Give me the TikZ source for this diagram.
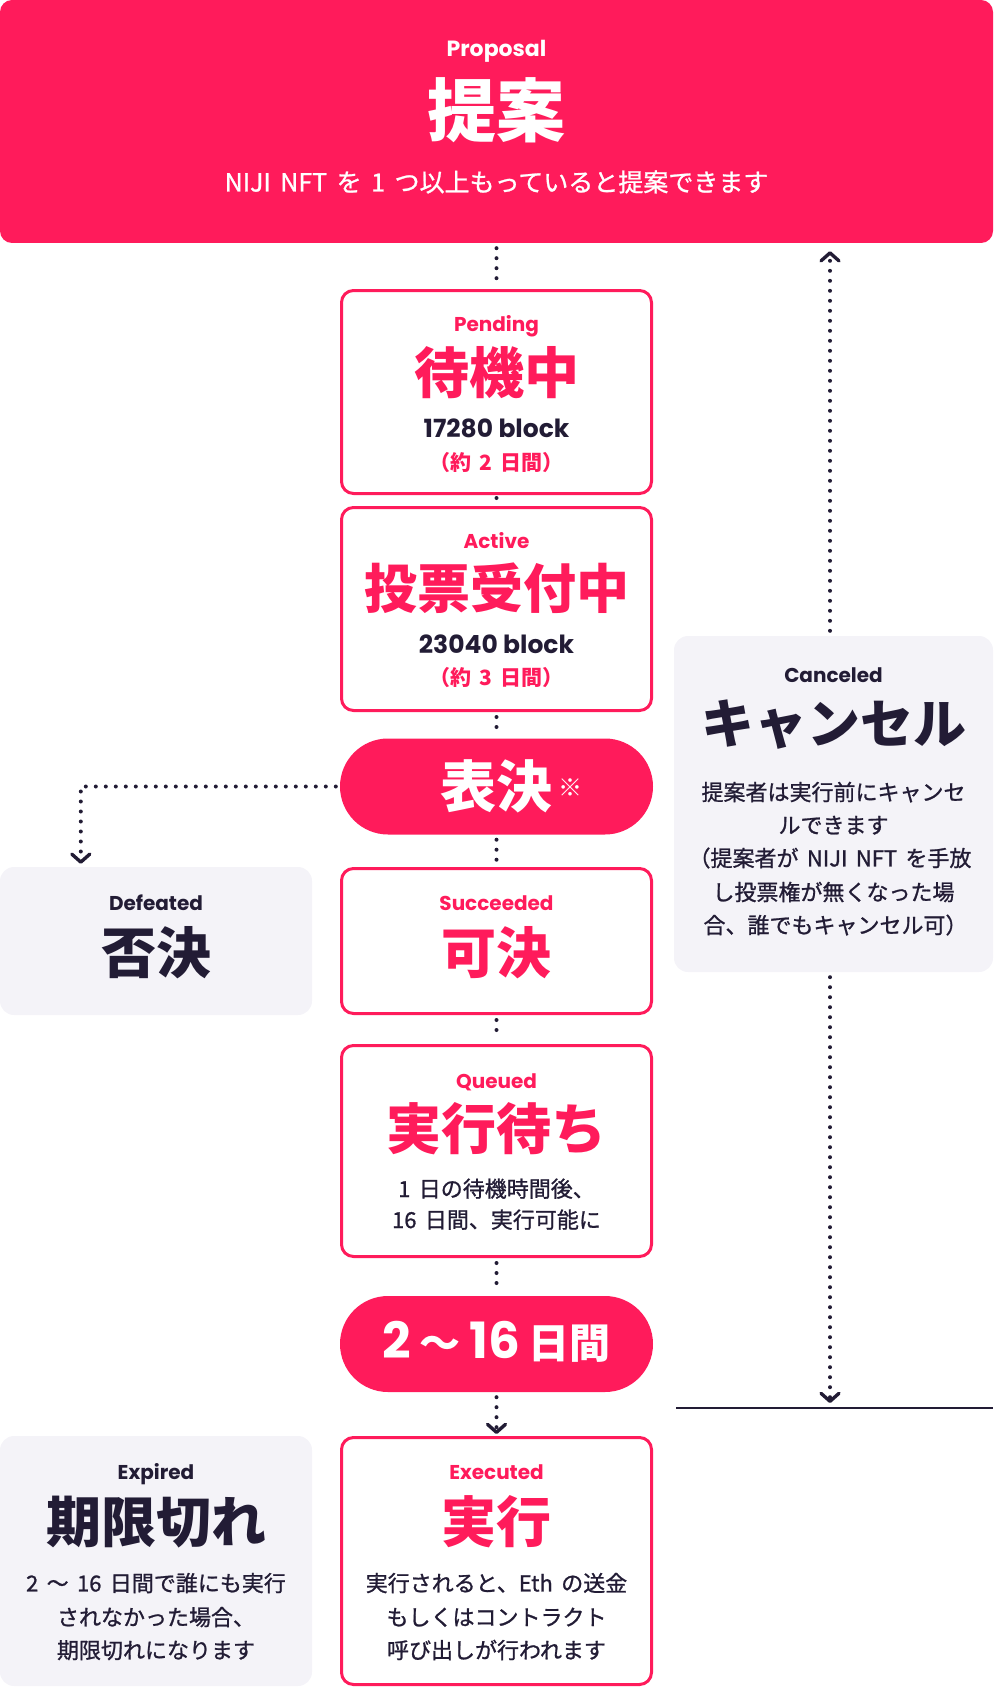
\documentclass[tikz,border=0pt]{standalone}
\usepackage{fontspec}
\setmainfont{Noto Sans CJK JP}[WordSpace=1.7]
\newfontfamily\jpm{Noto Sans CJK JP}[WordSpace=1.7,FakeBold=1]
\newfontfamily\pop{Poppins}
\usetikzlibrary{arrows.meta,calc}
\definecolor{brand}{HTML}{FF1B5B}
\definecolor{ink}{HTML}{221C35}
\definecolor{pale}{HTML}{F4F3F8}
\newcommand{\fsz}[1]{\fontsize{#1}{#1}\selectfont}
\begin{document}
\begin{tikzpicture}[x=1pt,y=-1pt,
  redbox/.style={draw=brand,line width=3pt,rounded corners=12pt,fill=white,minimum width=310pt,inner sep=0pt},
  graybox/.style={fill=pale,rounded corners=14pt,minimum width=312pt,inner sep=0pt},
  pillbox/.style={fill=brand,rounded corners=48pt,minimum width=313pt,minimum height=96pt,inner sep=0pt},
  txt/.style={anchor=base,inner sep=0pt,outer sep=0pt},
  tagtxt/.style={txt,font=\pop\bfseries\fsz{20}},
  headtxt/.style={txt,font=\bfseries\fsz{55}},
  bodytxt/.style={txt,font=\jpm\fsz{22}},
  blocktxt/.style={txt,font=\pop\bfseries\fsz{25},text=ink},
  daytxt/.style={txt,font=\bfseries\fsz{21},text=brand},
  dotline/.style={draw=ink,line width=4pt,line cap=round,dash pattern=on 0pt off 10pt},
  arrowtip/.style={-{Straight Barb[length=8pt,width=18pt,line width=3.4pt,round]}},
]
\useasboundingbox (0,0) rectangle (993,1688);

% ---------- boxes ----------
\node[fill=brand,rounded corners=12pt,minimum width=993pt,minimum height=243pt,inner sep=0pt] (prop) at (496.5,121.5) {};
\node[redbox,minimum height=203pt] (pend) at (496.5,392) {};
\node[redbox,minimum height=203pt] (act) at (496.5,609) {};
\node[pillbox] (vote) at (496.5,786.5) {};
\node[graybox,minimum height=148pt] (def) at (156,941) {};
\node[redbox,minimum height=145pt] (succ) at (496.5,941) {};
\node[redbox,minimum height=211pt] (queue) at (496.5,1151) {};
\node[pillbox] (days) at (496.5,1344) {};
\node[graybox,minimum height=250pt] (exp) at (156,1561) {};
\node[redbox,minimum height=247pt] (exe) at (496.5,1561) {};
\node[graybox,minimum width=319pt,minimum height=336pt] (canc) at (833.5,804) {};

% ---------- connectors ----------
\draw[dotline,shorten <=5pt,shorten >=5pt] (prop.south) -- (pend.north);
\draw[dotline,shorten <=3pt,shorten >=3pt] (pend.south) -- (act.north);
\draw[dotline,shorten <=5pt,shorten >=5pt] (act.south) -- (vote.north);
\draw[dotline,arrowtip,shorten <=4pt,shorten >=3pt] (vote.west) -| ($(def.north west)+(81,0)$);
\draw[dotline,shorten <=5pt,shorten >=5pt] (vote.south) -- (succ.north);
\draw[dotline,shorten <=5pt,shorten >=5pt] (succ.south) -- (queue.north);
\draw[dotline,shorten <=5pt,shorten >=5pt] (queue.south) -- (days.north);
\draw[dotline,arrowtip,shorten <=5pt,shorten >=2pt] (days.south) -- (exe.north);
\coordinate (cup) at ($(canc.north)+(-3.5,0)$);
\coordinate (cdn) at ($(canc.south)+(-3.5,0)$);
\coordinate (barL) at (676,1408);
\coordinate (barR) at (993,1408);
\draw[ink,line width=2.2pt] (barL) -- (barR);
\draw[dotline,arrowtip,shorten <=5pt,shorten >=8pt] (cup) -- (cup |- prop.south);
\draw[dotline,arrowtip,shorten <=5pt,shorten >=5pt] (cdn) -- (cdn |- barL);

% ---------- texts ----------
\node[tagtxt,text=white,font=\pop\bfseries\fsz{22}] (t1) at (496.5,56.5) {Proposal};
\node[headtxt,text=white,font=\bfseries\fsz{69}] (t2) at (496.5,137) {提案};
\node[bodytxt,text=white,font=\jpm\fsz{25}] (t3) at (496.5,191.5) {NIJI NFT を 1 つ以上もっていると提案できます};

\node[tagtxt,text=brand] (p1) at (496.5,331) {Pending};
\node[headtxt,text=brand] (p2) at (496.5,393) {待機中};
\node[blocktxt] (p3) at (496.5,437) {17280 block};
\node[daytxt] (p4) at (496.5,470) {（約 2 日間）};

\node[tagtxt,text=brand] (a1) at (496.5,548.6) {Active};
\node[headtxt,text=brand,font=\bfseries\fsz{53}] (a2) at (496.5,608) {投票受付中};
\node[blocktxt] (a3) at (496.5,653) {23040 block};
\node[daytxt] (a4) at (496.5,685) {（約 3 日間）};

\node[headtxt,text=white,font=\bfseries\fsz{56}] (v1) at (496.5,807) {表決};
\node[txt,text=white,font=\fsz{24}] (v2) at (570.5,796) {※};

\node[tagtxt,text=ink] (d1) at (156,910.6) {Defeated};
\node[headtxt,text=ink] (d2) at (156,973) {否決};

\node[tagtxt,text=brand] (s1) at (496.5,910.6) {Succeeded};
\node[headtxt,text=brand] (s2) at (496.5,973) {可決};

\node[tagtxt,text=ink] (c1) at (833.5,682.6) {Canceled};
\node[headtxt,text=ink,font=\bfseries\fsz{53}] (c2) at (833.5,743) {キャンセル};
\node[bodytxt,text=ink] (c3) at (833.5,800.4) {提案者は実行前にキャンセ};
\node[bodytxt,text=ink] (c4) at (833.5,833.4) {ルできます};
\node[bodytxt,text=ink] (c5) at (830,866.4) {（提案者が NIJI NFT を手放};
\node[bodytxt,text=ink] (c6) at (833.5,900.4) {し投票権が無くなった場};
\node[bodytxt,text=ink] (c7) at (835.5,933.4) {合、誰でもキャンセル可）};

\node[tagtxt,text=brand] (q1) at (496.5,1088.6) {Queued};
\node[headtxt,text=brand] (q2) at (496.5,1149) {実行待ち};
\node[bodytxt,text=ink] (q3) at (496.5,1197) {1 日の待機時間後、};
\node[bodytxt,text=ink] (q4) at (496.5,1228) {16 日間、実行可能に};

\node[txt,text=white,font=\bfseries\fsz{41}] (w1) at (496.5,1358) {{\pop\fsz{50}2}\hspace{8.5pt}〜\hspace{8.5pt}{\pop\fsz{50}16}\hspace{8.5pt}日間};

\node[tagtxt,text=ink] (e1) at (156,1479.6) {Expired};
\node[headtxt,text=ink] (e2) at (156,1542) {期限切れ};
\node[bodytxt,text=ink] (e3) at (156,1591.4) {2 〜 16 日間で誰にも実行};
\node[bodytxt,text=ink] (e4) at (156,1625.4) {されなかった場合、};
\node[bodytxt,text=ink] (e5) at (156,1658.4) {期限切れになります};

\node[tagtxt,text=brand] (x1) at (496.5,1479.6) {Executed};
\node[headtxt,text=brand] (x2) at (496.5,1542) {実行};
\node[bodytxt,text=ink] (x3) at (496.5,1591.4) {実行されると、Eth の送金};
\node[bodytxt,text=ink] (x4) at (496.5,1625.4) {もしくはコントラクト};
\node[bodytxt,text=ink] (x5) at (496.5,1658.4) {呼び出しが行われます};
\end{tikzpicture}
\end{document}
